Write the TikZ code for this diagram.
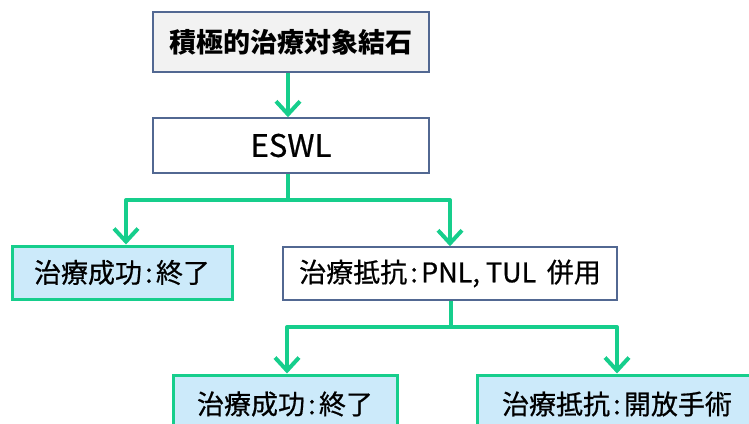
\documentclass[tikz,border=0pt]{standalone}
\usepackage{fontspec}
\setmainfont{Noto Sans CJK JP}
\newfontfamily\medfont[FakeBold=0.6]{Noto Sans CJK JP}
\usetikzlibrary{arrows.meta}
\definecolor{flowgreen}{RGB}{22,206,140}
\definecolor{boxedge}{RGB}{82,104,146}
\definecolor{boxgray}{RGB}{242,242,242}
\definecolor{boxblue}{RGB}{204,234,250}
\newcommand{\cln}{\kern0.12em:\kern0.12em}
\tikzset{
  plainbox/.style={draw=boxedge, line width=1.5pt, rectangle, inner sep=0pt, font=\medfont\fontsize{27}{30}\selectfont},
  endbox/.style={draw=flowgreen, fill=boxblue, line width=3pt, rectangle, inner sep=0pt, font=\medfont\fontsize{27}{30}\selectfont},
  link/.style={draw=flowgreen, line width=4pt, line join=round},
  arrowlink/.style={link, -{Straight Barb[length=13pt,width=24pt,line width=4pt]}},
}
\begin{document}
\begin{tikzpicture}[x=1pt,y=-1pt]
\useasboundingbox (0,0) rectangle (749,423);
\node[plainbox, fill=boxgray, minimum width=276pt, minimum height=60pt, font=\fontsize{27}{30}\selectfont\bfseries] (top) at (291,42) {積極的治療対象結石};
\node[plainbox, fill=white, minimum width=276pt, minimum height=55pt, font=\medfont\fontsize{31}{34}\selectfont] (eswl) at (291,145.5) {ESWL};
\node[endbox, minimum width=220pt, minimum height=53pt] (ok1) at (122,272.5) {治療成功\cln 終了};
\node[plainbox, fill=white, minimum width=334pt, minimum height=53pt] (mid) at (450,273.5) {治療抵抗\cln PNL, TUL\, 併用};
\node[endbox, minimum width=224pt, minimum height=58pt] (ok2) at (285,404) {治療成功\cln 終了};
\node[endbox, minimum width=280pt, minimum height=58pt] (open) at (617,404) {治療抵抗\cln 開放手術};

\draw[arrowlink] ([xshift=-3pt]top.south) -- ([xshift=-3pt]eswl.north);

\coordinate (j1) at (288,200);
\draw[link] ([xshift=-3pt]eswl.south) -- (j1);
\draw[arrowlink] (j1) -| ([xshift=4pt]ok1.north);
\draw[arrowlink] (j1) -| (mid.north);

\coordinate (j2) at (451,327);
\draw[link] ([xshift=1pt]mid.south) -- (j2);
\draw[arrowlink] (j2) -| ([xshift=2pt]ok2.north);
\draw[arrowlink] (j2) -| (open.north);
\end{tikzpicture}
\end{document}
